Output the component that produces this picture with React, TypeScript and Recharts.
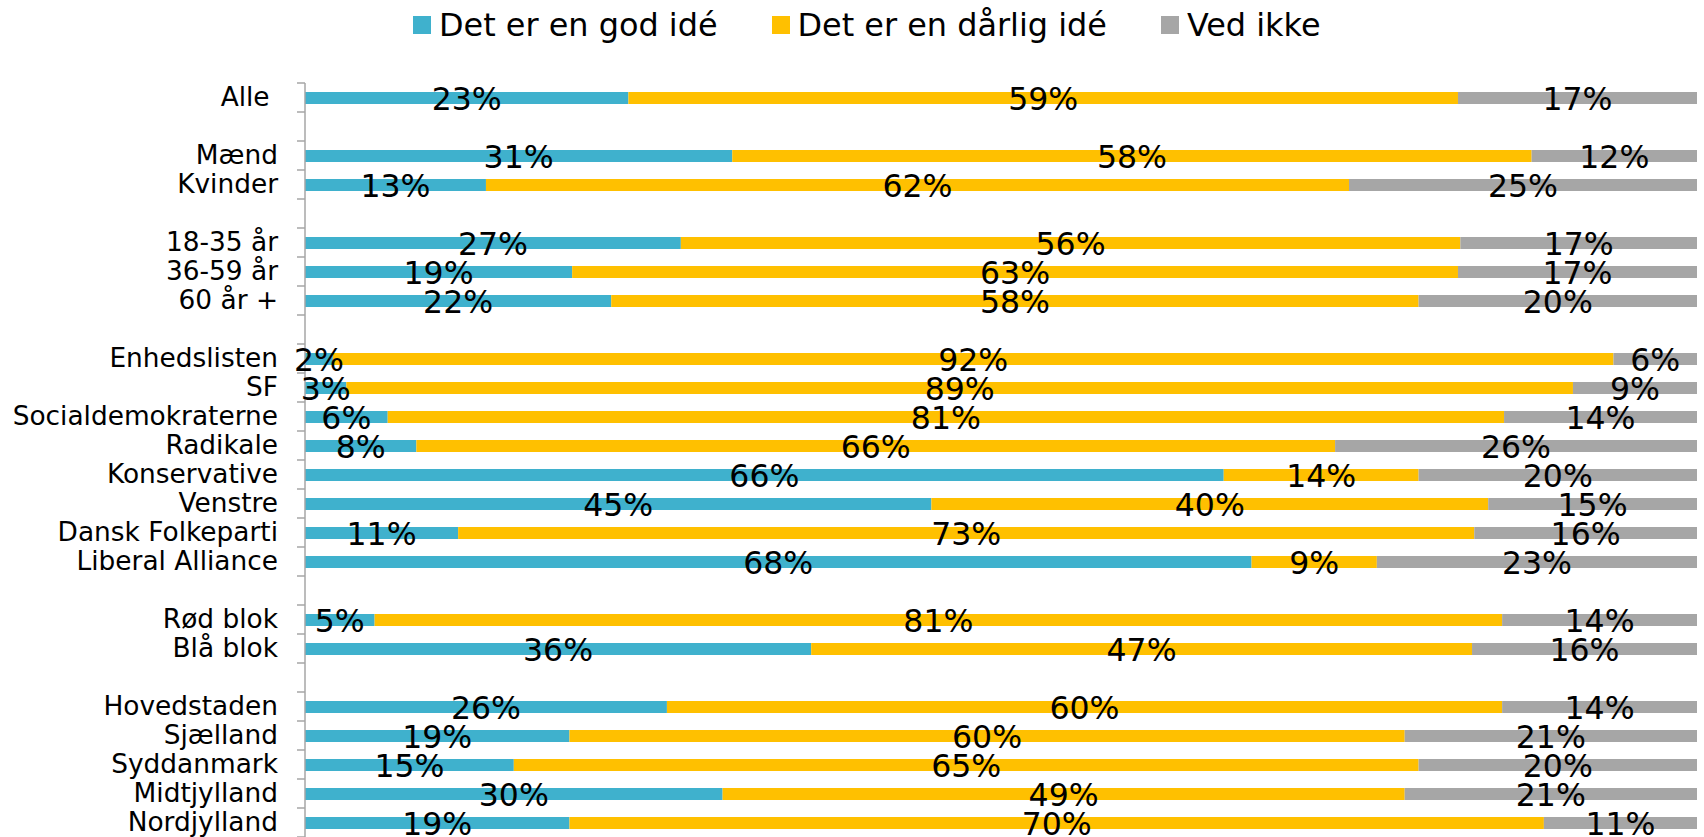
import React from "react";
import { BarChart, Bar, XAxis, YAxis, Legend, LabelList } from "recharts";

const categories = [
  "Alle\u00A0", "", "Mænd", "Kvinder", "", "18-35 år", "36-59 år", "60 år +", "",
  "Enhedslisten", "SF", "Socialdemokraterne", "Radikale", "Konservative", "Venstre",
  "Dansk Folkeparti", "Liberal Alliance", "", "Rød blok", "Blå blok", "",
  "Hovedstaden", "Sjælland", "Syddanmark", "Midtjylland", "Nordjylland",
];
const god = [23, null, 31, 13, null, 27, 19, 22, null, 2, 3, 6, 8, 66, 45, 11, 68, null, 5, 36, null, 26, 19, 15, 30, 19];
const daarlig = [59, null, 58, 62, null, 56, 63, 58, null, 92, 89, 81, 66, 14, 40, 73, 9, null, 81, 47, null, 60, 60, 65, 49, 70];
const vedIkke = [17, null, 12, 25, null, 17, 17, 20, null, 6, 9, 14, 26, 20, 15, 16, 23, null, 14, 16, null, 14, 21, 20, 21, 11];

const seriesNames = ["Det er en god idé", "Det er en dårlig idé", "Ved ikke"];
const seriesKeys = ["god", "daarlig", "vedIkke"];
const seriesValues = [god, daarlig, vedIkke];
const colors = ["#3FB1CD", "#FFC000", "#A6A6A6"];

const data = categories.map((name, i) => ({
  name,
  god: god[i] ?? 0,
  daarlig: daarlig[i] ?? 0,
  vedIkke: vedIkke[i] ?? 0,
}));

const W = 1704;
const H = 837;
const MARGIN = { top: 83, right: 7, bottom: 0, left: 0 };
const AXIS_W = 305;
const ROW_H = (H - MARGIN.top - MARGIN.bottom) / categories.length;
const TICK_GAP = 27;
const FONT = "'DejaVu Sans', Verdana, sans-serif";
const AXIS_COLOR = "#A6A6A6";

const CategoryTick = (props: any) => {
  const { x, y, payload, index } = props;
  const axisX = x + TICK_GAP;
  const top = y - ROW_H / 2;
  return (
    <g>
      <line x1={axisX - 8} x2={axisX} y1={top} y2={top} stroke={AXIS_COLOR} strokeWidth={1.5} />
      {index === categories.length - 1 && (
        <line x1={axisX - 8} x2={axisX} y1={y + ROW_H / 2} y2={y + ROW_H / 2} stroke={AXIS_COLOR} strokeWidth={1.5} />
      )}
      {payload.value ? (
        <text x={x} y={y + 8.5} textAnchor="end" fontSize={26.4} fontFamily={FONT} fill="#000">
          {payload.value}
        </text>
      ) : null}
    </g>
  );
};

const makeLabel = (values: (number | null)[]) => (p: any) => {
  const { x, y, width, height } = p;
  const cx = Number(x) + Number(width) / 2;
  const cy = Number(y) + Number(height) / 2;
  const row = Math.floor((cy - MARGIN.top) / ROW_H);
  const v = values[row];
  if (v == null || !v) return null;
  return (
    <text x={cx} y={cy + 11.5} textAnchor="middle" fontSize={31.5} fontFamily={FONT} fill="#000">
      {v}%
    </text>
  );
};

const LegendContent = () => (
  <div style={{ display: "flex", alignItems: "center", height: 40, fontFamily: FONT, fontSize: 31.9, lineHeight: "40px", whiteSpace: "nowrap" }}>
    {seriesNames.map((n, i) => (
      <div key={n} style={{ display: "flex", alignItems: "center", marginRight: i < seriesNames.length - 1 ? 54 : 0 }}>
        <span style={{ display: "inline-block", width: 18, height: 18, background: colors[i], marginRight: 8 }} />
        <span style={{ color: "#000" }}>{n}</span>
      </div>
    ))}
  </div>
);

export default function App() {
  return (
    <div style={{ position: "absolute", left: 0, top: 0, width: W, height: H, background: "#fff" }}>
      <div style={{ position: "absolute", left: 0, top: 0 }}>
        <BarChart width={W} height={H} data={data} layout="vertical" stackOffset="expand" margin={MARGIN} barSize={12}>
          <XAxis type="number" hide domain={[0, 1]} />
          <YAxis
            type="category"
            dataKey="name"
            width={AXIS_W}
            interval={0}
            tickLine={false}
            tickSize={0}
            tickMargin={TICK_GAP}
            axisLine={{ stroke: AXIS_COLOR, strokeWidth: 1.5 }}
            tick={<CategoryTick />}
          />
          <Legend
            verticalAlign="middle"
            align="center"
            layout="horizontal"
            wrapperStyle={{ top: 5, left: 413, width: "auto" }}
            content={<LegendContent />}
          />
          {seriesKeys.map((k, i) => (
            <Bar key={k} dataKey={k} name={seriesNames[i]} stackId="a" fill={colors[i]} isAnimationActive={false} />
          ))}
        </BarChart>
      </div>
      <div style={{ position: "absolute", left: 0, top: 0 }}>
        <BarChart width={W} height={H} data={data} layout="vertical" stackOffset="expand" margin={{ ...MARGIN, left: AXIS_W }} barSize={12}>
          <XAxis type="number" hide domain={[0, 1]} />
          <YAxis type="category" dataKey="name" hide />
          {seriesKeys.map((k, i) => (
            <Bar key={k} dataKey={k} stackId="a" fill={colors[i]} fillOpacity={0} isAnimationActive={false}>
              <LabelList content={makeLabel(seriesValues[i])} />
            </Bar>
          ))}
        </BarChart>
      </div>
    </div>
  );
}
